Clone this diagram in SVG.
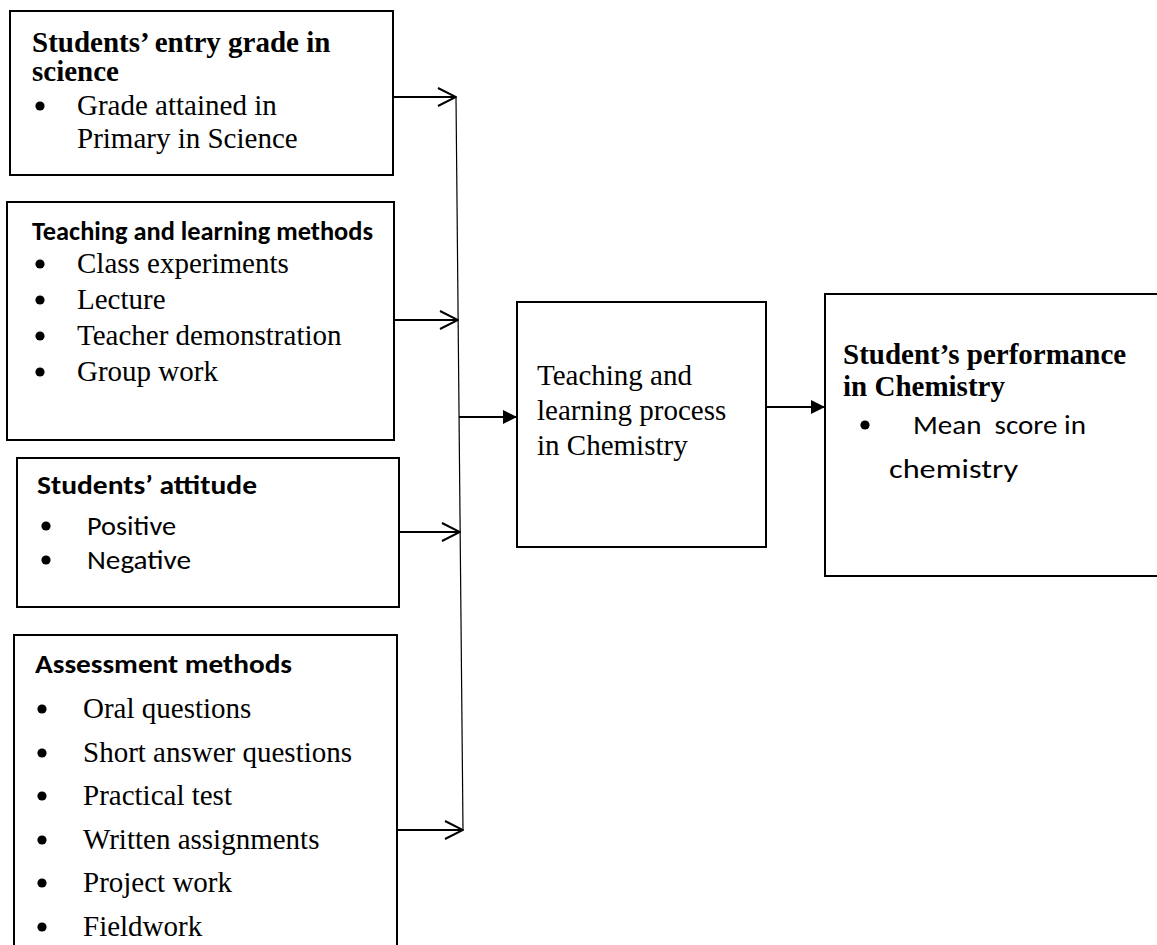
<svg xmlns="http://www.w3.org/2000/svg" width="1157" height="945" viewBox="0 0 1157 945">
<defs>
<style>
.box{fill:#fff;stroke:#000;stroke-width:2}
.serif{font-family:"Liberation Serif","Times New Roman",serif;font-size:29px;fill:#000}
.bold{font-weight:bold}
.sans{font-family:"Carlito","Lato",sans-serif;font-size:26px;fill:#000}
.sansb{font-family:"Carlito","Lato",sans-serif;font-size:26px;font-weight:bold;fill:#000}
.bul{fill:#000}
.conn{fill:none;stroke:#000;stroke-width:2}
.bus{fill:none;stroke:#000;stroke-width:1.2}
</style>
<marker id="open" viewBox="0 0 20 20" refX="19" refY="10" markerWidth="20" markerHeight="20" markerUnits="userSpaceOnUse" orient="auto">
<path d="M1,1 L19,10 L1,19" fill="none" stroke="#000" stroke-width="2"/>
</marker>
<marker id="solid" viewBox="0 0 14 14" refX="14" refY="7" markerWidth="14" markerHeight="14" markerUnits="userSpaceOnUse" orient="auto">
<path d="M0,0 L14,7 L0,14 z" fill="#000"/>
</marker>
</defs>
<rect width="1157" height="945" fill="#fff"/>

<g id="entry-grade">
<rect class="box" x="10" y="11" width="383" height="164"/>
<text class="serif bold" x="32" y="52">Students’ entry grade in</text>
<text class="serif bold" x="32" y="81">science</text>
<circle class="bul" cx="40" cy="106" r="4.6"/>
<text class="serif" x="77" y="115">Grade attained in</text>
<text class="serif" x="77" y="148">Primary in Science</text>
</g>

<g id="teaching-methods">
<rect class="box" x="7" y="202" width="387" height="238"/>
<text class="sansb" x="32" y="240" font-size="23.5" textLength="341" lengthAdjust="spacingAndGlyphs">Teaching and learning methods</text>
<circle class="bul" cx="40" cy="264" r="4.6"/>
<text class="serif" x="77" y="273">Class experiments</text>
<circle class="bul" cx="40" cy="300" r="4.6"/>
<text class="serif" x="77" y="309">Lecture</text>
<circle class="bul" cx="40" cy="336" r="4.6"/>
<text class="serif" x="77" y="345">Teacher demonstration</text>
<circle class="bul" cx="40" cy="372" r="4.6"/>
<text class="serif" x="77" y="381">Group work</text>
</g>

<g id="attitude">
<rect class="box" x="17" y="458" width="382" height="149"/>
<text class="sansb" x="37" y="494" textLength="220" lengthAdjust="spacingAndGlyphs">Students’ attitude</text>
<circle class="bul" cx="46" cy="526" r="4.6"/>
<text class="sans" x="87" y="535" textLength="89" lengthAdjust="spacingAndGlyphs">Positive</text>
<circle class="bul" cx="46" cy="560" r="4.6"/>
<text class="sans" x="87" y="569" textLength="104" lengthAdjust="spacingAndGlyphs">Negative</text>
</g>

<g id="assessment">
<rect class="box" x="14" y="635" width="383" height="330"/>
<text class="sansb" x="35" y="673" textLength="257" lengthAdjust="spacingAndGlyphs">Assessment methods</text>
<circle class="bul" cx="42" cy="709" r="4.6"/>
<text class="serif" x="83" y="718">Oral questions</text>
<circle class="bul" cx="42" cy="753" r="4.6"/>
<text class="serif" x="83" y="762">Short answer questions</text>
<circle class="bul" cx="42" cy="796" r="4.6"/>
<text class="serif" x="83" y="805">Practical test</text>
<circle class="bul" cx="42" cy="840" r="4.6"/>
<text class="serif" x="83" y="849">Written assignments</text>
<circle class="bul" cx="42" cy="883" r="4.6"/>
<text class="serif" x="83" y="892">Project work</text>
<circle class="bul" cx="42" cy="927" r="4.6"/>
<text class="serif" x="83" y="936">Fieldwork</text>
</g>

<g id="process">
<rect class="box" x="517" y="302" width="249" height="245"/>
<text class="serif" x="537" y="385">Teaching and</text>
<text class="serif" x="537" y="420">learning process</text>
<text class="serif" x="537" y="455">in Chemistry</text>
</g>

<g id="performance">
<rect class="box" x="825" y="294" width="345" height="282"/>
<text class="serif bold" x="843" y="364">Student’s performance</text>
<text class="serif bold" x="843" y="396">in Chemistry</text>
<circle class="bul" cx="865" cy="425" r="4.6"/>
<text class="sans" x="913" y="434" xml:space="preserve" textLength="173" lengthAdjust="spacingAndGlyphs">Mean  score in</text>
<text class="sans" x="889" y="478" textLength="129" lengthAdjust="spacingAndGlyphs">chemistry</text>
</g>

<g id="connectors">
<line class="bus" x1="456" y1="97" x2="463" y2="830"/>
<line class="conn" x1="393" y1="97" x2="456" y2="97" marker-end="url(#open)"/>
<line class="conn" x1="394" y1="320" x2="458" y2="320" marker-end="url(#open)"/>
<line class="conn" x1="399" y1="532" x2="460" y2="532" marker-end="url(#open)"/>
<line class="conn" x1="397" y1="830" x2="463" y2="830" marker-end="url(#open)"/>
<line class="conn" x1="459" y1="417" x2="517" y2="417" marker-end="url(#solid)"/>
<line class="conn" x1="766" y1="407" x2="825" y2="407" marker-end="url(#solid)"/>
</g>
</svg>
